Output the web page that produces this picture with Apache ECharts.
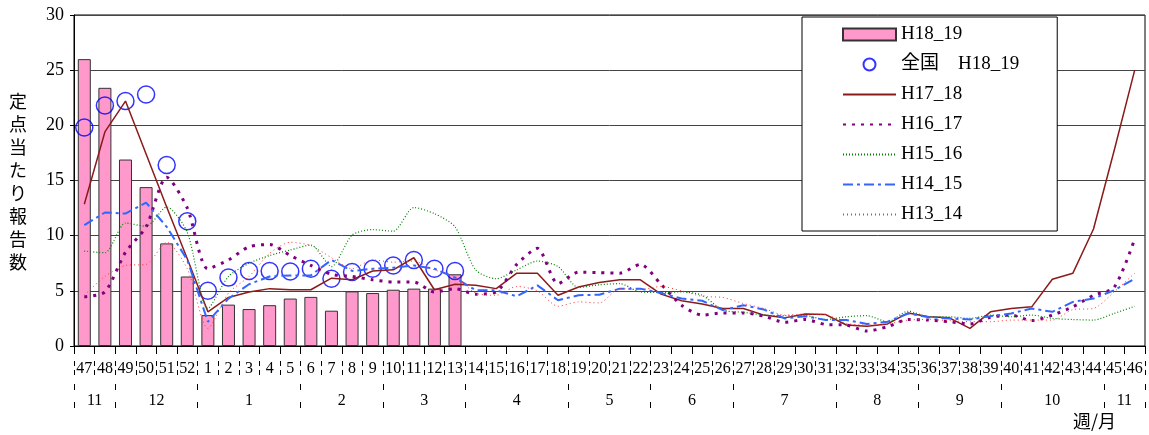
<!DOCTYPE html>
<html>
<head>
<meta charset="utf-8">
<script src="https://cdn.jsdelivr.net/npm/echarts@6/dist/echarts.min.js"></script>
<style>
html,body{margin:0;padding:0;background:#fff;}
#c{width:1149px;height:435px;}
</style>
</head>
<body>
<div id="c"></div>
<script>
// ---- data ----
var weeks = ['47','48','49','50','51','52','1','2','3','4','5','6','7','8','9','10','11','12','13','14','15','16','17','18','19','20','21','22','23','24','25','26','27','28','29','30','31','32','33','34','35','36','37','38','39','40','41','42','43','44','45','46'];
var months = ['11','12','1','2','3','4','5','6','7','8','9','10','11'];
var monthSpans = [2,4,5,4,4,5,4,4,5,4,4,5,2];
var yTicks = [0,5,10,15,20,25,30];

var h18_19 = [26.0,23.4,16.9,14.4,9.3,6.3,2.8,3.75,3.35,3.7,4.3,4.45,3.2,4.95,4.8,5.1,5.2,5.2,6.5];
var zenkoku_h18_19 = [19.8,21.8,22.2,22.8,16.4,11.3,5.0,6.2,6.8,6.8,6.75,7.0,6.1,6.7,7.0,7.3,7.8,7.0,6.8];
var h17_18 = [12.85,19.4,22.2,17.4,12.6,7.9,3.1,4.4,4.9,5.2,5.1,5.1,6.15,6.0,6.8,6.9,8.0,5.1,5.6,5.5,5.2,6.6,6.6,4.6,5.35,5.75,6.0,6.0,4.7,4.1,3.8,3.4,3.4,2.8,2.55,2.9,2.85,1.9,1.8,2.0,3.0,2.65,2.55,1.6,3.1,3.4,3.55,6.05,6.6,10.6,17.7,25.0];
var h16_17 = [4.45,4.9,8.5,10.8,15.3,12.5,7.0,7.8,9.0,9.2,8.2,7.3,6.5,6.3,6.0,5.8,5.8,4.9,5.2,4.7,4.9,7.4,8.85,5.65,6.7,6.65,6.6,7.4,5.6,3.7,2.8,3.0,3.0,2.7,2.15,2.4,1.95,1.9,1.35,1.75,2.4,2.35,2.2,2.0,2.6,2.8,2.3,2.8,3.55,4.6,5.3,9.7];
var h15_16 = [8.6,8.45,11.15,10.85,12.6,10.3,3.4,6.3,7.5,8.2,8.7,9.15,7.2,10.05,10.55,10.4,12.55,12.0,10.8,6.9,6.1,6.9,7.7,7.2,5.3,5.55,5.65,4.9,4.85,4.9,4.6,3.25,3.05,2.8,2.75,2.75,2.4,2.65,2.75,2.2,3.15,2.65,2.65,2.5,2.8,2.65,2.8,2.5,2.4,2.35,2.95,3.6];
var h14_15 = [10.95,12.1,12.0,13.0,10.8,7.8,2.2,4.3,5.6,6.3,6.4,6.4,7.8,6.8,7.0,7.1,7.3,7.0,6.2,5.05,5.05,4.5,5.5,4.15,4.6,4.65,5.2,5.2,4.8,4.3,4.1,3.25,3.7,3.3,2.5,2.7,2.35,2.35,2.0,2.2,2.95,2.6,2.5,2.4,2.7,2.95,3.4,3.1,4.0,4.3,5.05,6.1];
var h13_14 = [4.6,6.3,7.3,7.4,9.4,7.0,1.6,4.8,6.3,8.4,9.4,9.1,8.0,7.0,7.8,7.6,7.7,6.9,6.3,4.8,4.6,5.4,5.0,3.6,4.0,3.9,5.2,5.1,5.4,5.0,4.5,4.4,3.85,3.4,2.8,2.9,2.85,2.05,1.9,2.0,2.35,2.4,2.3,2.2,2.2,2.35,2.35,2.35,3.3,3.4,4.9,6.6];

// ---- month axis (half-week slots) ----
var monthSlots = [];
var monthBoundary = {};
(function(){
  for (var i = 0; i <= weeks.length * 2; i++) monthSlots.push('');
  var pos = 0;
  monthBoundary[0] = true;
  for (var m = 0; m < months.length; m++) {
    monthSlots[pos * 2 + monthSpans[m]] = months[m];
    pos += monthSpans[m];
    monthBoundary[pos * 2] = true;
  }
})();

var serif = '"Liberation Serif", "DejaVu Serif", "Noto Sans CJK JP", serif';
var jp = '"Liberation Serif", "Noto Sans CJK JP", serif';
var noSym = {color: 'rgba(0,0,0,0)', borderWidth: 0, borderColor: 'rgba(0,0,0,0)'};

var chart = echarts.init(document.getElementById('c'), null, {renderer: 'canvas'});
var option = {
  backgroundColor: '#fff',
  animation: false,
  grid: {left: 74, right: 4, top: 15, bottom: 89, show: true, borderColor: '#000', borderWidth: 1, backgroundColor: 'transparent'},
  legend: {
    orient: 'vertical', left: 802, top: 17,
    itemWidth: 53, itemHeight: 12, itemGap: 11,
    padding: [8, 38, 7, 40],
    backgroundColor: '#fff', borderColor: '#000', borderWidth: 1,
    textStyle: {fontFamily: jp, fontSize: 19, color: '#000'},
    selectedMode: false,
    data: [
      {name: 'H18_19', icon: 'rect'},
      {name: '全国\u3000H18_19', icon: 'circle'},
      {name: 'H17_18', itemStyle: noSym},
      {name: 'H16_17', itemStyle: noSym},
      {name: 'H15_16', itemStyle: noSym},
      {name: 'H14_15', itemStyle: noSym},
      {name: 'H13_14', itemStyle: noSym}
    ]
  },
  xAxis: [
    {
      type: 'category', data: weeks, boundaryGap: true,
      axisLine: {show: true, lineStyle: {color: '#000', width: 1}},
      axisTick: {show: true, interval: 0, length: 8, lineStyle: {color: '#000'}},
      axisLabel: {interval: 0, margin: 15, fontSize: 16, fontFamily: serif, color: '#000'},
      splitLine: {show: false}
    },
    {
      type: 'category', data: weeks, boundaryGap: true, position: 'bottom', offset: 15,
      axisLine: {show: false},
      axisTick: {show: true, interval: 0, length: 15, lineStyle: {color: '#000', type: [5, 4]}},
      axisLabel: {show: false},
      splitLine: {show: false}
    },
    {
      type: 'category', data: monthSlots, boundaryGap: false, position: 'bottom', offset: 38,
      axisLine: {show: false},
      axisTick: {show: true, length: 34, interval: function (i) { return !!monthBoundary[i]; }, lineStyle: {color: '#000', type: [6, 12]}},
      axisLabel: {interval: function (i, v) { return v !== ''; }, margin: 9, fontSize: 16, fontFamily: serif, color: '#000'},
      splitLine: {show: false}
    }
  ],
  yAxis: {
    type: 'value', min: yTicks[0], max: yTicks[yTicks.length - 1], interval: 5,
    axisLine: {show: true, lineStyle: {color: '#000'}},
    axisTick: {show: true, length: 4, lineStyle: {color: '#000'}},
    axisLabel: {margin: 10, fontSize: 18, fontFamily: serif, color: '#000'},
    splitLine: {show: true, lineStyle: {color: '#444', width: 1}}
  },
  graphic: [
    {type: 'text', left: 9, top: 90, style: {text: '定\n点\n当\nた\nり\n報\n告\n数', font: '18px "Noto Sans CJK JP"', lineHeight: 23, fill: '#000'}},
    {type: 'text', left: 1073, top: 412, style: {text: '週/月', font: '18px "Noto Sans CJK JP"', fill: '#000'}}
  ],
  series: [
    {
      name: 'H18_19', type: 'bar', data: h18_19, barWidth: 13,
      itemStyle: {color: '#FF99CC', borderColor: '#333', borderWidth: 1}
    },
    {
      name: 'H17_18', type: 'line', data: h17_18, symbol: 'none',
      lineStyle: {color: '#8B1A1A', width: 1.5}, itemStyle: {color: '#8B1A1A'}
    },
    {
      name: 'H16_17', type: 'line', data: h16_17, symbol: 'none', smooth: 0.25,
      lineStyle: {color: '#800080', width: 3, type: [3, 6]}, itemStyle: {color: '#800080'}
    },
    {
      name: 'H15_16', type: 'line', data: h15_16, symbol: 'none', smooth: 0.25,
      lineStyle: {color: '#008000', width: 1.2, type: [1, 2]}, itemStyle: {color: '#008000'}
    },
    {
      name: 'H14_15', type: 'line', data: h14_15, symbol: 'none',
      lineStyle: {color: '#3366FF', width: 2, type: [10, 4, 3, 4]}, itemStyle: {color: '#3366FF'}
    },
    {
      name: 'H13_14', type: 'line', data: h13_14, symbol: 'none', smooth: 0.25,
      lineStyle: {color: '#FF3333', width: 1, type: [1, 3]}, itemStyle: {color: '#FF3333'}
    },
    {
      name: '全国\u3000H18_19', type: 'scatter', data: zenkoku_h18_19, symbol: 'circle', symbolSize: 17,
      itemStyle: {color: 'rgba(255,255,255,0)', borderColor: '#0000FF', borderWidth: 1.5}
    }
  ]
};
chart.setOption(option);
</script>
</body>
</html>
